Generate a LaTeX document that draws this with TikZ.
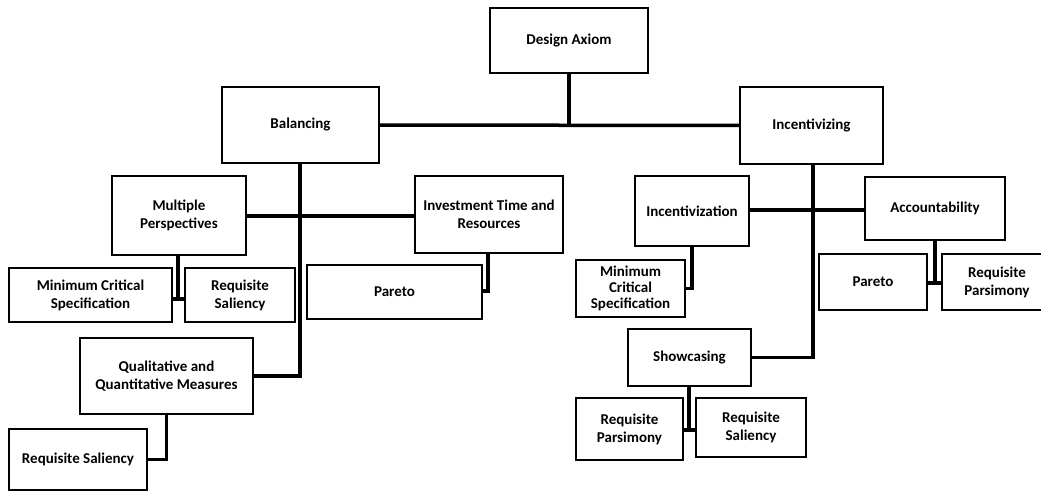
\documentclass[tikz,border=0pt]{standalone}
\usepackage{fontspec}
\setmainfont{Carlito}
\usepackage{tikz}

\tikzset{
  box/.style={draw, line width=1.7pt, inner sep=1pt, align=center,
    font=\fontsize{15}{18}\selectfont\bfseries},
  link/.style={line width=3.5pt},
}

\begin{document}
\begin{tikzpicture}[x=1pt, y=-1pt]

  \useasboundingbox (0,0) rectangle (1041,494);

  % Define nodes
  \node[box, minimum width=158pt, minimum height=65pt] (axiom) at (569,40.5) {Design Axiom};
  \node[box, minimum width=157pt, minimum height=76pt] (bal) at (300.5,125) {Balancing};
  \node[box, minimum width=143pt, minimum height=77pt] (inc) at (811.5,125.5) {Incentivizing};

  \node[box, minimum width=134pt, minimum height=79pt] (multi) at (179,215.5) {Multiple\\Perspectives};
  \node[box, minimum width=148pt, minimum height=77pt] (invest) at (489,214.5) {Investment Time and\\Resources};
  \node[box, minimum width=163pt, minimum height=54pt] (mcsa) at (90.5,295) {Minimum Critical\\Specification};
  \node[box, minimum width=110pt, minimum height=54pt] (rsa) at (240,295) {Requisite\\Saliency};
  \node[box, minimum width=175pt, minimum height=54pt] (paretoa) at (394.5,292) {Pareto};
  \node[box, minimum width=173pt, minimum height=76pt] (qual) at (166.5,376) {Qualitative and\\Quantitative Measures};
  \node[box, minimum width=138pt, minimum height=61pt] (rsb) at (78,459.5) {Requisite Saliency};

  \node[box, minimum width=114pt, minimum height=70pt] (incz) at (692,211) {Incentivization};
  \node[box, minimum width=140pt, minimum height=63pt] (acc) at (935,208.5) {Accountability};
  \node[box, minimum width=109pt, minimum height=57pt, font=\fontsize{15}{16}\selectfont\bfseries] (mcsb) at (630.5,288.5) {Minimum\\Critical\\Specification};
  \node[box, minimum width=108pt, minimum height=56pt] (paretob) at (873,282) {Pareto};
  \node[box, minimum width=110pt, minimum height=56pt] (rpa) at (997,282) {Requisite\\Parsimony};
  \node[box, minimum width=123pt, minimum height=57pt] (show) at (689.5,357.5) {Showcasing};
  \node[box, minimum width=107pt, minimum height=62pt] (rpb) at (629.5,429) {Requisite\\Parsimony};
  \node[box, minimum width=110pt, minimum height=59pt] (rsc) at (751,427.5) {Requisite\\Saliency};

  % Junctions
  \coordinate (top) at (axiom.south |- bal.east);
  \coordinate (balj) at ([xshift=-0.5pt]bal.south |- 0,216);
  \coordinate (incj) at ([xshift=1.5pt]inc.south |- 0,210);
  \coordinate (multij) at ([xshift=-1pt]multi.south |- 0,299);
  \coordinate (accj) at (acc.south |- 0,283);
  \coordinate (showj) at ([xshift=-0.5pt]show.south |- 0,430);

  % Connect the nodes
  \draw[link] (axiom) -- (top);
  \draw[link] (bal) -- (inc);

  \draw[link] ([xshift=-0.5pt]bal.south) -- (balj) |- (qual.east);
  \draw[link] (multi.east |- balj) -- (invest.west |- balj);
  \draw[link] ([xshift=-1pt]multi.south) -- (multij);
  \draw[link] (mcsa.east |- multij) -- (rsa.west |- multij);
  \draw[link] ([xshift=-1pt]invest.south) |- ([yshift=1pt]paretoa.east);
  \draw[link] (qual.south) |- (rsb.east);

  \draw[link] ([xshift=1.5pt]inc.south) -- (incj) |- (show.east);
  \draw[link] (incz.east |- incj) -- (acc.west |- incj);
  \draw[link] (incz.south) |- (mcsb.east);
  \draw[link] (acc.south) -- (accj);
  \draw[link] (paretob.east |- accj) -- (rpa.west |- accj);
  \draw[link] ([xshift=-0.5pt]show.south) -- (showj);
  \draw[link] (rpb.east |- showj) -- (rsc.west |- showj);

\end{tikzpicture}
\end{document}
